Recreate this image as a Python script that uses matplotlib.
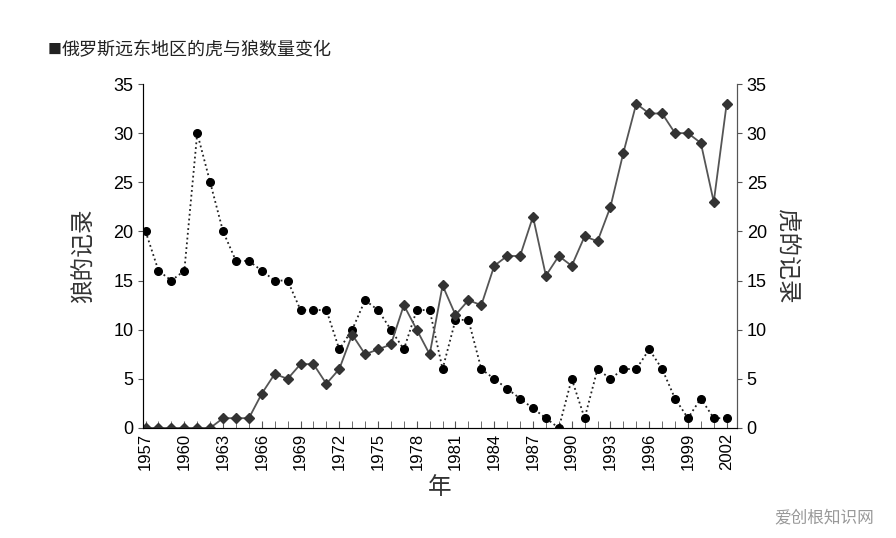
import matplotlib
matplotlib.use("Agg")
import matplotlib.pyplot as plt

plt.rcParams['font.family'] = ['Noto Sans CJK SC', 'DejaVu Sans']

years = list(range(1957, 2003))
wolf = [20,16,15,16,30,25,20,17,17,16,15,15,12,12,12,8,10,13,12,10,8,12,12,6,11,11,6,5,4,3,2,1,0,5,1,6,5,6,6,8,6,3,1,3,1,1]
tiger = [0,0,0,0,0,0,1,1,1,3.5,5.5,5,6.5,6.5,4.5,6,9.5,7.5,8,8.5,12.5,10,7.5,14.5,11.5,13,12.5,16.5,17.5,17.5,21.5,15.5,17.5,16.5,19.5,19,22.5,28,33,32,32,30,30,29,23,33]
tick_years = list(range(1957, 2003, 3))

fig = plt.figure(figsize=(8.96, 5.38), dpi=100)
ax = fig.add_axes([143/896, 1-428/538, (737-143)/896, (428-84)/538])
ax.plot(years, wolf, ls=':', color='#222222', lw=1.3, marker='o', ms=5.5, mfc='black', mec='black')
ax.plot(years, tiger, ls='-', color='#555555', lw=1.3, marker='D', ms=5, mfc='#333333', mec='#333333')
ax.set_xlim(1956.8, 2002.8)
ax.set_ylim(0, 35)
ax.set_yticks(range(0, 36, 5))
ax.set_xticks(tick_years)
ax.set_xticks(years, minor=True)
ax.set_xticklabels([str(y) for y in tick_years], rotation=90, fontsize=12, family='Liberation Sans')
ax.tick_params(axis='y', labelsize=13, direction='out', color='#555555')
ax.tick_params(axis='x', which='both', direction='in', color='#555555', length=5)
for lab in ax.get_yticklabels():
    lab.set_family('Liberation Sans')
ax.spines['top'].set_visible(False)
for s in ['left', 'right', 'bottom']:
    ax.spines[s].set_color('#555555')
ax.set_ylabel('狼的记录', fontsize=17, color='#333333', labelpad=12)
ax.set_xlabel('年', fontsize=17, color='#333333')

ax2 = ax.twinx()
ax2.set_ylim(0, 35)
ax2.set_yticks(range(0, 36, 5))
ax2.tick_params(axis='y', labelsize=13, color='#555555')
for lab in ax2.get_yticklabels():
    lab.set_family('Liberation Sans')
ax2.spines['top'].set_visible(False)
ax2.spines['right'].set_color('#555555')
ax2.set_ylabel('虎的记录', fontsize=17, color='#333333', rotation=-90, labelpad=22)

fig.text(48/896, 1-50/538, '■', fontsize=10, color='#222222', va='center')
fig.text(62/896, 1-50/538, '俄罗斯远东地区的虎与狼数量变化', fontsize=13, color='#222222', va='center')
fig.text(0.975, 0.03, '爱创根知识网', fontsize=12, color='#999999', ha='right')
fig.savefig('out.png', dpi=100)
